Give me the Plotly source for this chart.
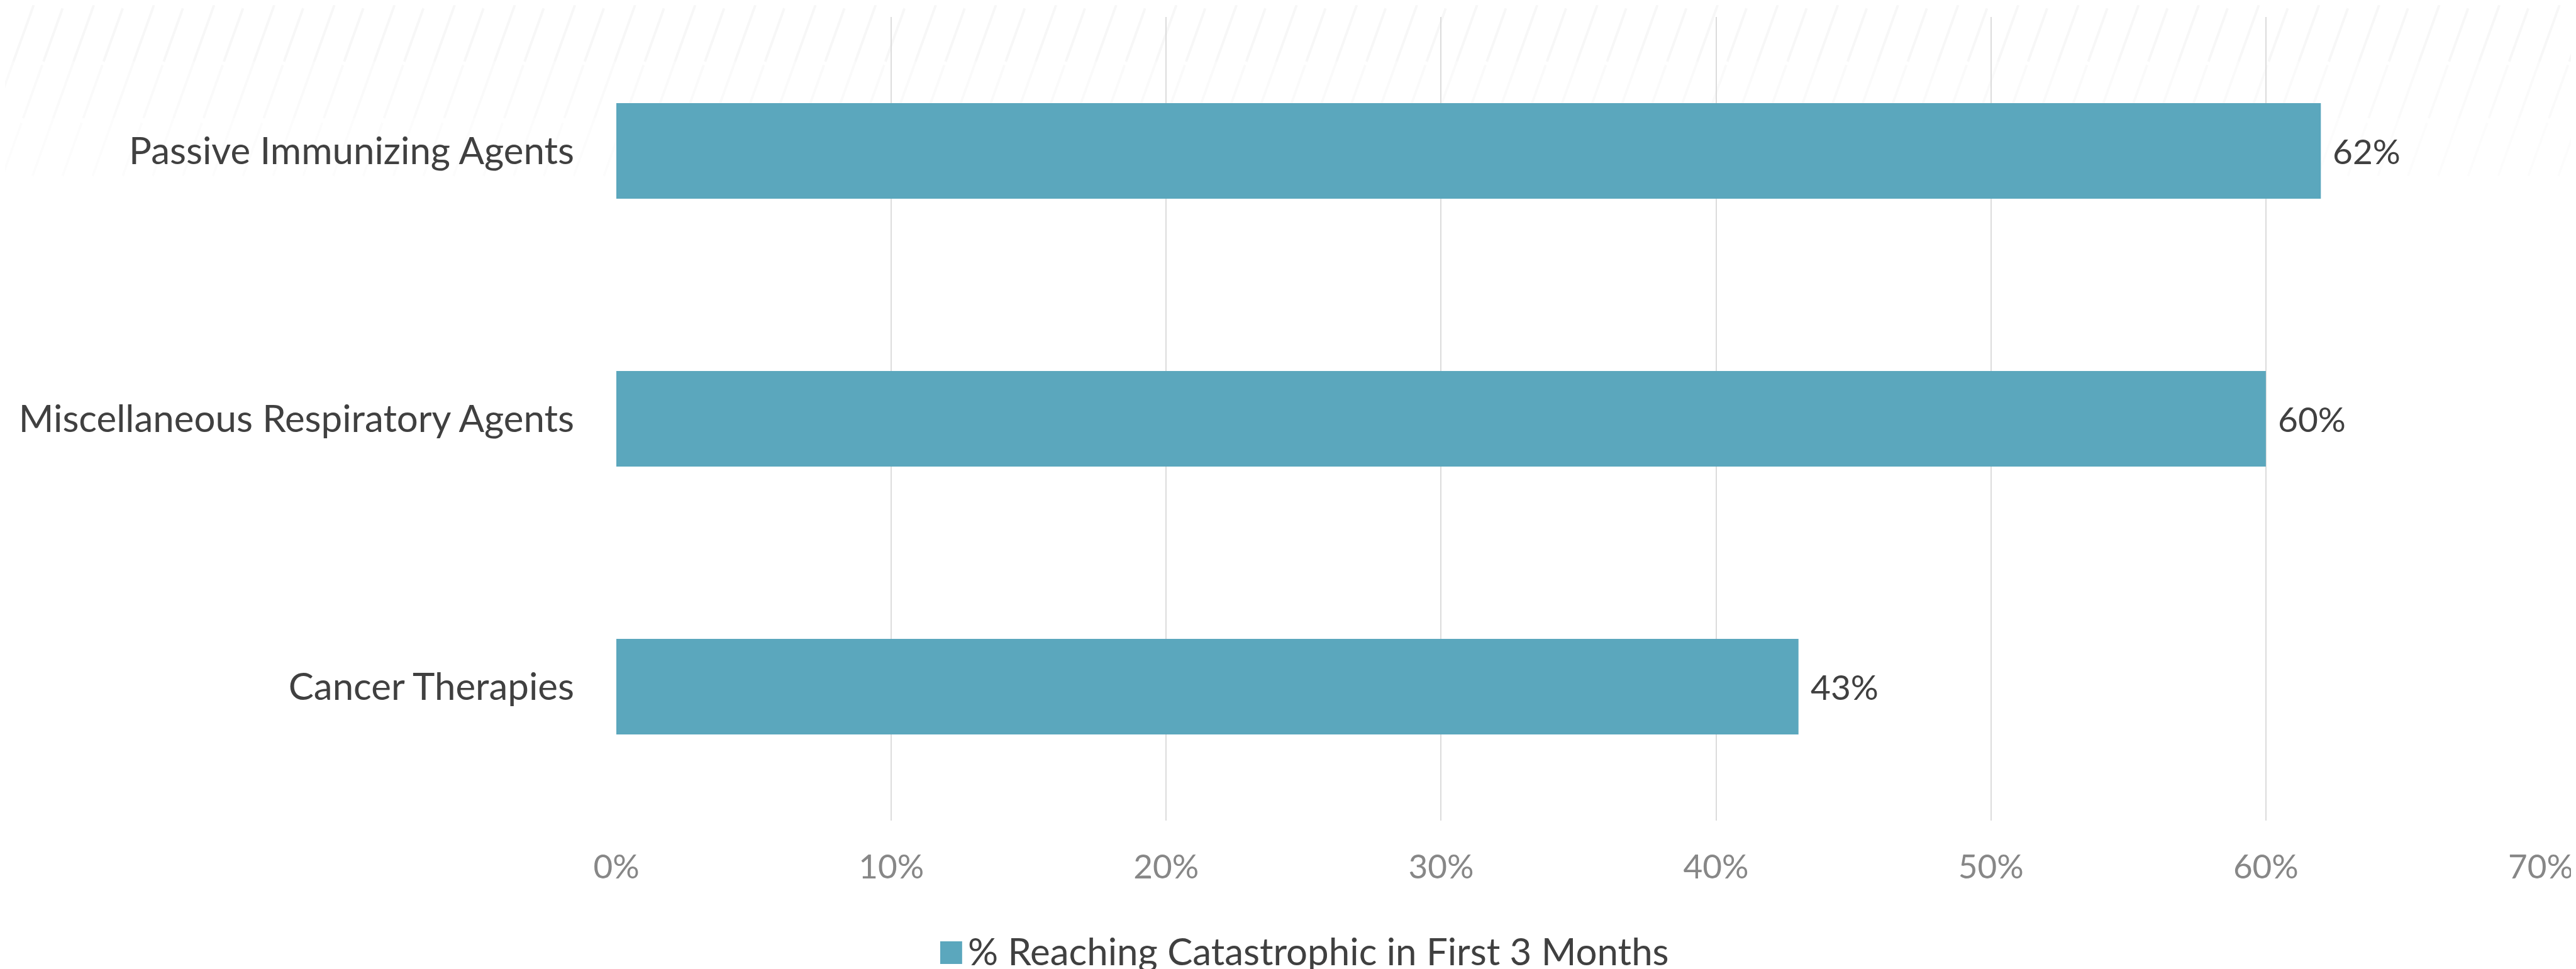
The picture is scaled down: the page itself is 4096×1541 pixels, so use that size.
import plotly.graph_objects as go

# ---- data ----
categories = ["Passive Immunizing Agents", "Miscellaneous Respiratory Agents", "Cancer Therapies"]
values = [62, 60, 43]
x_ticks = [0, 10, 20, 30, 40, 50, 60, 70]
x_tick_labels = [f"{v}%" for v in x_ticks]
series_name = "% Reaching Catastrophic in First 3 Months"

# ---- style ----
W, H = 4096, 1541
L, R, T, B = 972, 52, 19, 244
PW, PH = W - L - R, H - T - B
FONT = "Lato"
BAR = "#5ba7bd"
DARK = "#404040"
GREY = "#878787"
GRID = "#dcdcdc"


def pxp(x):
    return (x - L) / PW


def pyp(y):
    return (H - B - y) / PH


fig = go.Figure()
fig.add_trace(go.Bar(
    y=categories, x=values, orientation="h",
    marker=dict(color=BAR, line=dict(width=0)),
    width=0.357, name=series_name, showlegend=False,
    hoverinfo="x+y",
))

# data labels
for c, v in zip(categories, values):
    fig.add_annotation(x=v, y=c, xref="x", yref="y", text=f"{v}%",
                       showarrow=False, xanchor="left", yanchor="middle",
                       xshift=17, font=dict(family=FONT, size=55, color=DARK))

shapes = []
# subtle diagonal stripe background at the top
band_bot = 272
bands = [(0, 90, 0.03), (90, 180, 0.02), (180, 272, 0.011)]
slope = 0.36
x = -200
i = 0
while x < W + 200:
    for (y0, y1, a) in bands:
        xa = x + (band_bot - y1) * slope
        xb = x + (band_bot - y0) * slope
        shapes.append(dict(type="line", xref="paper", yref="paper",
                           x0=pxp(xa), y0=pyp(y1), x1=pxp(xb), y1=pyp(y0),
                           line=dict(color=f"rgba(0,0,0,{a})", width=4,
                                     dash=("90px,35px" if i % 2 == 0 else "130px,50px")),
                           layer="below"))
    x += 48
    i += 1

# legend (drawn manually to match the large square key)
shapes.append(dict(type="rect", xref="paper", yref="paper",
                   x0=pxp(1489), x1=pxp(1524), y0=pyp(1525), y1=pyp(1489),
                   fillcolor=BAR, line=dict(width=0), layer="above"))
fig.add_annotation(x=pxp(1531), y=pyp(1504), xref="paper", yref="paper",
                   text=series_name, showarrow=False, xanchor="left", yanchor="middle",
                   font=dict(family=FONT, size=60, color=DARK))

fig.update_layout(
    width=W, height=H,
    margin=dict(l=L, r=R, t=T, b=B, pad=0),
    paper_bgcolor="white", plot_bgcolor="rgba(0,0,0,0)",
    bargap=0.643,
    showlegend=False,
    shapes=shapes,
    font=dict(family=FONT, color=DARK),
    xaxis=dict(range=[0, 70], tickvals=x_ticks, ticktext=x_tick_labels,
               showgrid=True, gridcolor=GRID, gridwidth=2,
               zeroline=False, showline=False, ticks="",
               tickfont=dict(family=FONT, size=53, color=GREY),
               ticklabelstandoff=38, fixedrange=True),
    yaxis=dict(autorange="reversed", showgrid=False, zeroline=False,
               showline=False, ticks="",
               tickfont=dict(family=FONT, size=60, color=DARK),
               ticklabelstandoff=66, fixedrange=True),
)

fig.write_html("out.html")
